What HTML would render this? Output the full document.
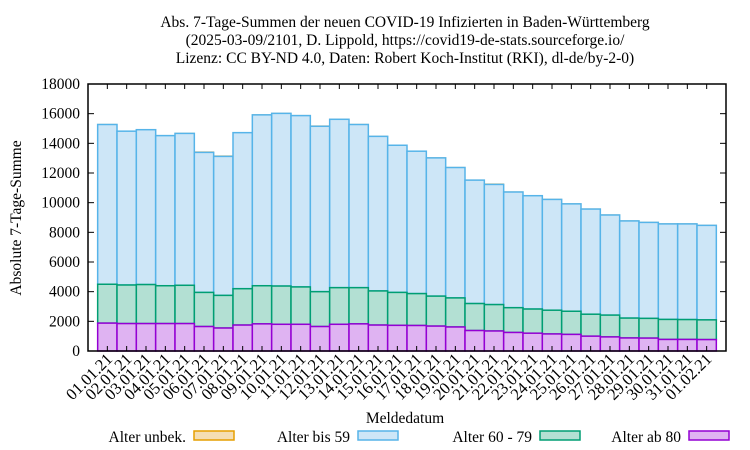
<!DOCTYPE html>
<html><head><meta charset="utf-8"><style>
html,body{margin:0;padding:0;background:#fff;}
svg{display:block;font-family:"Liberation Serif",serif;}
</style></head><body>
<svg id="chart" width="750" height="450" xmlns="http://www.w3.org/2000/svg">
<g font-size="15.5" text-anchor="middle" fill="#000">
<text x="405" y="27">Abs. 7-Tage-Summen der neuen COVID-19 Infizierten in Baden-Württemberg</text>
<text x="405" y="45">(2025-03-09/2101, D. Lippold, https://covid19-de-stats.sourceforge.io/</text>
<text x="405" y="63">Lizenz: CC BY-ND 4.0, Daten: Robert Koch-Institut (RKI), dl-de/by-2-0)</text>
</g>
<g id="bars"></g>
<g id="axes"></g>
<text font-size="15.5" text-anchor="middle" transform="translate(21,218) rotate(-90)">Absolute 7-Tage-Summe</text>
<text font-size="15.5" text-anchor="middle" x="405" y="423">Meldedatum</text>
<g font-size="15.5" text-anchor="end">
<g><text x="186" y="442">Alter unbek.</text><rect x="194" y="431" width="40" height="9" fill="#f5deb3" stroke="#e69f00" stroke-width="1.5"/></g>
<g><text x="350" y="442">Alter bis 59</text><rect x="358" y="431" width="40" height="9" fill="#cde6f7" stroke="#56b4e9" stroke-width="1.5"/></g>
<g><text x="532" y="442">Alter 60 - 79</text><rect x="540" y="431" width="40" height="9" fill="#b3e0d3" stroke="#009e73" stroke-width="1.5"/></g>
<g><text x="681" y="442">Alter ab 80</text><rect x="689" y="431" width="40" height="9" fill="#dfb3f2" stroke="#9400d3" stroke-width="1.5"/></g>
</g>
</svg>
<script>
const categories=["01.01.21","02.01.21","03.01.21","04.01.21","05.01.21","06.01.21","07.01.21","08.01.21","09.01.21","10.01.21","11.01.21","12.01.21","13.01.21","14.01.21","15.01.21","16.01.21","17.01.21","18.01.21","19.01.21","20.01.21","21.01.21","22.01.21","23.01.21","24.01.21","25.01.21","26.01.21","27.01.21","28.01.21","29.01.21","30.01.21","31.01.21","01.02.21"];
const ab80=[1880,1850,1850,1850,1850,1650,1550,1750,1830,1800,1800,1650,1800,1830,1750,1730,1720,1680,1620,1380,1350,1250,1200,1150,1120,1000,950,880,870,780,780,770];
const a60_79=[2620,2600,2630,2550,2580,2300,2200,2450,2570,2580,2520,2350,2470,2440,2300,2220,2150,2020,1960,1820,1780,1670,1630,1600,1560,1480,1470,1340,1330,1350,1340,1330];
const bis59=[10770,10370,10440,10120,10240,9440,9370,10520,11520,11640,11550,11150,11350,11000,10420,9920,9600,9320,8790,8320,8100,7800,7640,7470,7240,7090,6750,6550,6470,6440,6450,6370];
const unbek=[10,10,10,10,10,40,40,10,10,10,10,30,10,10,10,10,10,10,10,10,40,10,10,10,10,10,10,10,10,10,10,10];
const yTicks=[0,2000,4000,6000,8000,10000,12000,14000,16000,18000];
const NS="http://www.w3.org/2000/svg";
const L=88,R=726,T=84,B=351,yMax=18000;
const n=categories.length;
const slot=(R-L)/(n+1);
function xPos(i){return L+slot*(i+1);}
function yPos(v){return B-(v/yMax)*(B-T);}
function mk(tag,attrs,parent){const e=document.createElementNS(NS,tag);for(const k in attrs)e.setAttribute(k,attrs[k]);parent.appendChild(e);return e;}
const bars=document.getElementById('bars');
const axes=document.getElementById('axes');
const series=[
 {d:ab80,fill:"#dfb3f2",stroke:"#9400d3",name:"bar-ab80"},
 {d:a60_79,fill:"#b3e0d3",stroke:"#009e73",name:"bar-60-79"},
 {d:bis59,fill:"#cde6f7",stroke:"#56b4e9",name:"bar-bis59"},
 {d:unbek,fill:"#f5deb3",stroke:"#e6c98a",name:"bar-unbek"}];
const base=categories.map(()=>0);
const layers=series.map(s=>{const lo=base.slice();s.d.forEach((v,i)=>base[i]+=v);return {s,lo,hi:base.slice()};});
for(let k=layers.length-1;k>=0;k--){
 const {s,lo,hi}=layers[k];
 for(let i=0;i<n;i++){
  const y1=yPos(hi[i]),y0=yPos(lo[i]);
  const r=mk('rect',{x:xPos(i)-slot/2,y:y1,width:slot,height:Math.max(0,y0-y1),fill:s.fill,stroke:s.stroke,'stroke-width':k===3?1:1.5},bars);
  
  
 }
}
const frame=mk('rect',{x:L,y:T,width:R-L,height:B-T,fill:'none',stroke:'#000','stroke-width':1.5},axes);


yTicks.forEach(v=>{
 const y=yPos(v);
 mk('line',{x1:L,x2:L+6,y1:y,y2:y,stroke:'#000'},axes);
 mk('line',{x1:R,x2:R-6,y1:y,y2:y,stroke:'#000'},axes);
 const t=mk('text',{x:L-8,y:y+5,'font-size':15.5,'text-anchor':'end'},axes);
 t.textContent=v;
 
 
});
categories.forEach((c,i)=>{
 const x=xPos(i);
 mk('line',{x1:x,x2:x,y1:B,y2:B-5,stroke:'#000'},axes);
 mk('line',{x1:x,x2:x,y1:T,y2:T+5,stroke:'#000'},axes);
 const t=mk('text',{'font-size':16.5,'text-anchor':'end',transform:`translate(${x+6},${B+9}) rotate(-45)`},axes);
 t.textContent=c;
 
 
});
</script>
</body></html>
